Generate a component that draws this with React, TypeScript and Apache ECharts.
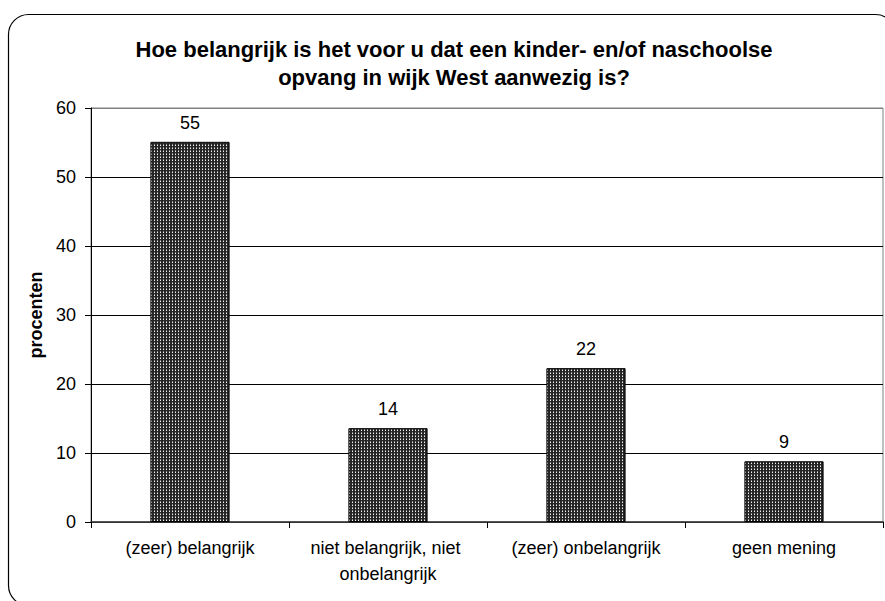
import React, { useEffect, useRef } from "react";
import * as echarts from "echarts";

const categories = [
  "(zeer) belangrijk",
  "niet belangrijk, niet onbelangrijk",
  "(zeer) onbelangrijk",
  "geen mening",
];
const values = [55.1, 13.6, 22.3, 8.8];
const titleText =
  "Hoe belangrijk is het voor u dat een kinder- en/of naschoolse\nopvang in wijk West aanwezig is?";
const yAxisName = "procenten";

const FONT = '"Liberation Sans", Arial, sans-serif';

function makePattern(): string {
  const c = document.createElement("canvas");
  c.width = 3;
  c.height = 3;
  const ctx = c.getContext("2d")!;
  ctx.fillStyle = "#262626";
  ctx.fillRect(0, 0, 3, 3);
  ctx.fillStyle = "#f2f2f2";
  ctx.fillRect(1, 1, 1, 1);
  ctx.fillStyle = "#8c8c8c";
  ctx.fillRect(1, 0, 1, 1);
  return c.toDataURL();
}

export default function App() {
  const ref = useRef<HTMLDivElement>(null);
  useEffect(() => {
    document.body.style.margin = "0";
    document.body.style.overflow = "hidden";
    const chart = echarts.init(ref.current!, undefined, { renderer: "svg" });
    const pattern = makePattern();
    chart.setOption({
      animation: false,
      backgroundColor: "#ffffff",
      title: {
        text: titleText,
        left: 449,
        top: 30,
        textAlign: "center",
        textStyle: {
          fontFamily: FONT,
          fontSize: 22,
          fontWeight: "bold",
          color: "#000",
          lineHeight: 28,
        },
      },
      graphic: [
        {
          type: "rect",
          shape: { x: 8.5, y: 14.5, width: 887, height: 591, r: 20 },
          style: { fill: "none", stroke: "#000", lineWidth: 1.2 },
          z: 100,
          silent: true,
        },
      ],
      grid: {
        left: 91,
        right: 2,
        top: 108,
        bottom: 79,
        show: true,
        borderColor: "#808080",
        borderWidth: 1,
        backgroundColor: "transparent",
      },
      xAxis: {
        type: "category",
        data: categories,
        axisLine: { show: true, lineStyle: { color: "#333", width: 1.5 } },
        axisTick: { show: true, length: 6, lineStyle: { color: "#000" } },
        axisLabel: {
          fontFamily: FONT,
          fontSize: 18,
          color: "#000",
          margin: 13,
          lineHeight: 26,
          width: 190,
          overflow: "break",
          interval: 0,
        },
      },
      yAxis: {
        type: "value",
        min: 0,
        max: 60,
        interval: 10,
        name: yAxisName,
        nameLocation: "middle",
        nameRotate: 90,
        nameGap: 45,
        nameTextStyle: {
          fontFamily: FONT,
          fontSize: 18,
          fontWeight: "bold",
          color: "#000",
        },
        axisLine: { show: true, lineStyle: { color: "#000", width: 1 } },
        axisTick: { show: true, length: 6, lineStyle: { color: "#000" } },
        axisLabel: {
          fontFamily: FONT,
          fontSize: 18,
          color: "#000",
          margin: 15,
        },
        splitLine: {
          show: true,
          lineStyle: {
            color: ["#333", "#000", "#000", "#000", "#000", "#000", "#808080"],
            width: 1,
          },
        },
      },
      series: [
        {
          type: "bar",
          data: values,
          barWidth: "40%",
          itemStyle: {
            color: { image: pattern, repeat: "repeat" },
            borderColor: "#000",
            borderWidth: 1,
          },
          label: {
            show: true,
            position: "top",
            distance: 10,
            fontFamily: FONT,
            fontSize: 18,
            color: "#000",
            formatter: (p: any) => String(Math.round(p.value)),
          },
        },
      ],
    });
    return () => chart.dispose();
  }, []);
  return <div ref={ref} style={{ width: 885, height: 601 }} />;
}
